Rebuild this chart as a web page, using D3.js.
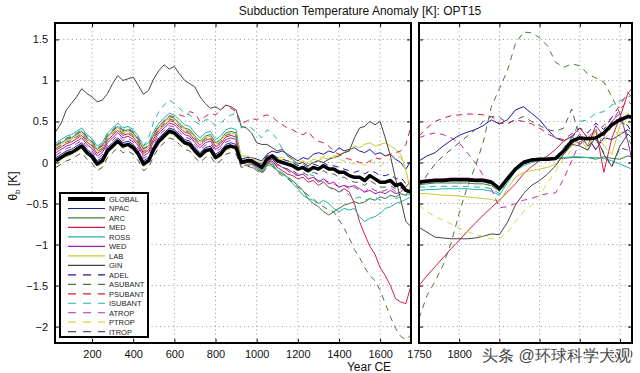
<!DOCTYPE html>
<html>
<head>
<meta charset="utf-8">
<script src="https://cdn.jsdelivr.net/npm/d3@7"></script>
<style>
  body { margin: 0; background: #fff; }
  text { font-family: "Liberation Sans", Arial, sans-serif; }
</style>
</head>
<body>
<svg id="chart" width="640" height="373"></svg>
<script>
// years for the two panels
var yearsL = d3.range(25, 1751, 25);
var yearsR = [1750,1760,1770,1780,1790,1800,1810,1820,1830,1840,1850,1860,1870,1880,1890,1900,1910,1920,1930,1940,1950,1960,1970,1980,1990,2000,2010,2015];

var xTicksL = [200,400,600,800,1000,1200,1400,1600];
var xTicksR = [1750,1800,1850,1900,1950,2000];
// labels under the watermark are not visible in the source
var xLabelsR = [1750,1800,2000];
var yTicks = [-2,-1.5,-1,-0.5,0,0.5,1,1.5];

// left panel (0-1750 CE)
var globalL = [0.02,0.06,0.10,0.12,0.16,0.20,0.12,0.07,-0.02,0.02,0.14,0.20,0.26,0.20,0.22,0.18,0.10,-0.02,0.02,0.16,0.26,0.32,0.38,0.36,0.30,0.24,0.22,0.14,0.08,0.14,0.16,0.06,0.10,0.18,0.20,0.18,
  0.00,0.02,0.02,-0.02,-0.06,0.04,0.08,0.02,0.00,-0.02,-0.04,-0.08,-0.06,-0.10,-0.06,-0.08,-0.04,-0.08,-0.08,-0.12,-0.12,-0.16,-0.18,-0.18,-0.22,-0.16,-0.20,-0.24,-0.24,-0.22,-0.28,-0.26,-0.34,-0.36];
var npacL = [0.06,0.1,0.14,0.16,0.2,0.24,0.16,0.11,0.02,0.06,0.18,0.24,0.3,0.24,0.26,0.22,0.14,0.02,0.06,0.2,0.3,0.36,0.42,0.4,0.34,0.28,0.26,0.18,0.12,0.18,0.2,0.1,0.14,0.22,0.24,0.22,
  0.04,0.06,0.06,0.04,0.02,0.1,0.14,0.12,0.14,0.1,0.06,0.02,0.06,0.04,0.1,0.12,0.1,0.14,0.12,0.18,0.14,0.16,0.18,0.14,0.12,0.16,0.1,0.12,0.08,0.1,0.04,0.0,-0.08,0.02];
var arcL = [0.2,0.24,0.28,0.3,0.34,0.38,0.3,0.25,0.16,0.2,0.32,0.38,0.44,0.38,0.4,0.36,0.28,0.16,0.2,0.34,0.44,0.5,0.56,0.54,0.48,0.42,0.4,0.32,0.26,0.32,0.34,0.24,0.28,0.36,0.38,0.36,
  0.0,-0.02,-0.02,-0.08,-0.12,-0.04,-0.02,-0.1,-0.14,-0.18,-0.22,-0.28,-0.34,-0.44,-0.5,-0.54,-0.6,-0.64,-0.6,-0.56,-0.52,-0.5,-0.48,-0.5,-0.48,-0.44,-0.46,-0.42,-0.44,-0.4,-0.42,-0.38,-0.4,-0.3];
var medL = [0.15,0.19,0.23,0.25,0.29,0.33,0.25,0.2,0.11,0.15,0.27,0.33,0.39,0.33,0.35,0.31,0.23,0.11,0.15,0.29,0.39,0.45,0.51,0.49,0.43,0.37,0.35,0.27,0.21,0.27,0.29,0.19,0.23,0.31,0.33,0.31,
  0.02,0.0,0.0,-0.06,-0.1,0.0,0.02,-0.06,-0.1,-0.14,-0.16,-0.2,-0.18,-0.24,-0.22,-0.28,-0.24,-0.3,-0.32,-0.36,-0.32,-0.36,-0.5,-0.72,-0.88,-1.02,-1.12,-1.28,-1.38,-1.5,-1.66,-1.7,-1.72,-1.5];
var rossL = [0.24,0.28,0.32,0.34,0.38,0.42,0.34,0.29,0.2,0.24,0.36,0.42,0.48,0.42,0.44,0.4,0.32,0.2,0.24,0.38,0.48,0.54,0.6,0.58,0.52,0.46,0.44,0.36,0.3,0.36,0.38,0.28,0.32,0.4,0.42,0.4,
  0.04,0.02,0.0,-0.06,-0.1,-0.02,0.0,-0.1,-0.12,-0.18,-0.26,-0.32,-0.4,-0.44,-0.46,-0.5,-0.46,-0.5,-0.56,-0.6,-0.56,-0.58,-0.56,-0.66,-0.72,-0.68,-0.66,-0.62,-0.56,-0.54,-0.5,-0.48,-0.45,-0.42];
var wedL = [0.12,0.16,0.2,0.22,0.26,0.3,0.22,0.17,0.08,0.12,0.24,0.3,0.36,0.3,0.32,0.28,0.2,0.08,0.12,0.26,0.36,0.42,0.48,0.46,0.4,0.34,0.32,0.24,0.18,0.24,0.26,0.16,0.2,0.28,0.3,0.28,
  0.0,0.02,0.0,-0.04,-0.08,0.02,0.04,-0.02,-0.06,-0.08,-0.12,-0.16,-0.14,-0.2,-0.18,-0.24,-0.2,-0.26,-0.24,-0.3,-0.28,-0.3,-0.28,-0.32,-0.36,-0.34,-0.38,-0.36,-0.38,-0.34,-0.38,-0.36,-0.3,-0.22];
var labL = [0.18,0.22,0.26,0.28,0.32,0.36,0.28,0.23,0.14,0.18,0.3,0.36,0.42,0.36,0.38,0.34,0.26,0.14,0.18,0.32,0.42,0.48,0.54,0.52,0.46,0.4,0.38,0.3,0.24,0.3,0.32,0.22,0.26,0.34,0.36,0.34,
  0.08,0.08,0.06,0.02,0.0,0.08,0.1,0.04,0.04,0.02,0.0,-0.02,0.02,-0.02,0.04,0.02,0.06,0.04,0.08,0.1,0.12,0.14,0.2,0.18,0.22,0.24,0.2,0.22,0.24,0.2,0.16,0.1,-0.1,-0.35];
var ginL = [0.38,0.48,0.64,0.72,0.8,0.9,0.84,0.8,0.74,0.76,0.84,0.96,1.06,1.0,1.02,1.04,0.94,0.83,0.88,1.02,1.12,1.19,1.14,1.17,1.08,1.0,0.96,0.92,0.8,0.72,0.66,0.68,0.64,0.7,0.68,0.64,
  0.44,0.42,0.36,0.24,0.22,0.22,0.18,0.14,0.16,0.08,0.04,-0.02,0.0,-0.04,0.0,0.02,0.0,0.04,0.06,0.08,0.12,0.14,0.3,0.42,0.44,0.5,0.46,0.5,0.3,0.08,-0.2,-0.45,-0.72,-0.78];
var adelL = [0.04,0.08,0.12,0.14,0.18,0.22,0.14,0.09,0.0,0.04,0.16,0.22,0.28,0.22,0.24,0.2,0.12,0.0,0.04,0.18,0.28,0.34,0.4,0.38,0.32,0.26,0.24,0.16,0.1,0.16,0.18,0.08,0.12,0.2,0.22,0.2,
  0.02,0.04,0.04,0.0,-0.02,0.08,0.1,0.06,0.04,0.02,0.0,-0.04,-0.02,-0.06,-0.02,-0.04,0.0,-0.04,-0.04,-0.06,-0.08,-0.1,-0.12,-0.1,-0.14,-0.1,-0.12,-0.16,-0.16,-0.14,-0.2,-0.18,-0.26,-0.28];
var asubantL = [0.17,0.21,0.25,0.27,0.31,0.35,0.27,0.22,0.13,0.17,0.29,0.35,0.41,0.35,0.37,0.33,0.25,0.13,0.17,0.31,0.41,0.47,0.53,0.51,0.45,0.39,0.37,0.29,0.23,0.29,0.31,0.21,0.25,0.33,0.35,0.33,
  -0.02,-0.04,-0.04,-0.1,-0.14,-0.06,-0.04,-0.12,-0.16,-0.2,-0.24,-0.3,-0.34,-0.4,-0.44,-0.5,-0.54,-0.58,-0.6,-0.7,-0.8,-0.92,-1.06,-1.16,-1.28,-1.38,-1.44,-1.56,-1.72,-1.88,-2.02,-2.12,-2.16,-2.1];
var psubantL = [0.21,0.25,0.29,0.31,0.35,0.39,0.31,0.26,0.17,0.21,0.33,0.39,0.45,0.39,0.41,0.37,0.29,0.17,0.21,0.35,0.45,0.51,0.57,0.56,0.58,0.56,0.62,0.6,0.5,0.56,0.6,0.58,0.64,0.7,0.66,0.62,
  0.48,0.5,0.54,0.52,0.56,0.58,0.56,0.5,0.46,0.42,0.4,0.36,0.34,0.38,0.3,0.26,0.24,0.2,0.14,0.1,0.06,0.04,0.02,0.0,-0.02,0.02,0.06,0.04,0.08,0.1,0.12,0.14,0.22,0.44];
var isubantL = [0.22,0.26,0.3,0.32,0.36,0.4,0.32,0.27,0.18,0.22,0.34,0.4,0.46,0.4,0.42,0.38,0.3,0.2,0.3,0.5,0.62,0.7,0.76,0.72,0.66,0.6,0.58,0.5,0.46,0.52,0.52,0.44,0.48,0.54,0.58,0.6,
  0.42,0.44,0.42,0.36,0.3,0.4,0.36,0.28,0.16,0.08,0.02,-0.04,-0.08,-0.14,-0.16,-0.22,-0.24,-0.3,-0.34,-0.36,-0.34,-0.4,-0.44,-0.42,-0.46,-0.44,-0.42,-0.46,-0.44,-0.4,-0.44,-0.42,-0.4,-0.38];
var atropL = [0.09,0.13,0.17,0.19,0.23,0.27,0.19,0.14,0.05,0.09,0.21,0.27,0.33,0.27,0.29,0.25,0.17,0.05,0.09,0.23,0.33,0.39,0.45,0.43,0.37,0.31,0.29,0.21,0.15,0.21,0.23,0.13,0.17,0.25,0.27,0.25,
  -0.02,0.0,-0.02,-0.04,-0.08,0.0,0.04,-0.02,-0.06,-0.1,-0.14,-0.16,-0.14,-0.2,-0.18,-0.22,-0.2,-0.24,-0.26,-0.3,-0.28,-0.32,-0.3,-0.34,-0.36,-0.3,-0.34,-0.36,-0.34,-0.3,-0.36,-0.32,-0.3,-0.3];
var ptropL = [-0.01,0.03,0.07,0.09,0.13,0.17,0.09,0.04,-0.05,-0.01,0.11,0.17,0.23,0.17,0.19,0.15,0.07,-0.05,-0.01,0.13,0.23,0.29,0.35,0.33,0.27,0.21,0.19,0.11,0.05,0.11,0.13,0.03,0.07,0.15,0.17,0.15,
  0.02,0.04,0.04,0.02,0.0,0.08,0.1,0.06,0.06,0.04,0.04,0.0,0.02,0.0,0.04,0.04,0.08,0.06,0.06,0.04,0.02,0.0,-0.02,0.0,-0.04,0.02,-0.02,-0.04,0.0,0.04,0.08,0.06,-0.1,-0.4];
var itropL = [-0.06,-0.02,0.02,0.04,0.08,0.12,0.04,-0.01,-0.1,-0.06,0.06,0.12,0.18,0.12,0.14,0.1,0.02,-0.1,-0.06,0.08,0.18,0.24,0.3,0.28,0.22,0.16,0.14,0.06,0.0,0.06,0.08,-0.02,0.02,0.1,0.12,0.1,
  -0.06,-0.04,-0.06,-0.08,-0.12,-0.02,0.02,-0.04,-0.06,-0.08,-0.1,-0.14,-0.12,-0.16,-0.12,-0.14,-0.1,-0.14,-0.14,-0.18,-0.18,-0.22,-0.24,-0.24,-0.28,-0.22,-0.26,-0.3,-0.3,-0.28,-0.32,-0.3,-0.36,-0.38];

// right panel (1750-2015 CE)
var globalR = [-0.24,-0.23,-0.22,-0.22,-0.21,-0.21,-0.21,-0.22,-0.22,-0.24,-0.32,-0.2,-0.08,0.0,0.03,0.04,0.04,0.05,0.14,0.26,0.3,0.29,0.3,0.36,0.46,0.52,0.56,0.55];
var npacR = [0.02,0.08,0.12,0.2,0.27,0.33,0.37,0.4,0.45,0.52,0.47,0.52,0.64,0.68,0.6,0.52,0.4,0.3,0.26,0.32,0.22,0.3,0.16,0.3,0.28,0.34,0.4,0.35];
var arcR = [-0.27,-0.26,-0.25,-0.25,-0.25,-0.25,-0.25,-0.26,-0.26,-0.28,-0.35,-0.22,-0.1,-0.02,0.02,0.03,0.04,0.05,0.05,0.06,0.06,0.06,0.04,0.07,0.05,0.04,0.08,0.07];
var medR = [-1.5,-1.38,-1.27,-1.16,-1.05,-0.95,-0.84,-0.74,-0.64,-0.55,-0.46,-0.36,-0.26,-0.14,-0.05,0.02,0.08,0.16,0.26,0.32,0.42,0.3,0.4,-0.12,0.3,0.55,0.85,0.9];
var rossR = [-0.34,-0.33,-0.33,-0.32,-0.32,-0.32,-0.32,-0.33,-0.33,-0.35,-0.4,-0.25,-0.1,-0.04,0.0,0.02,0.04,0.06,0.06,0.07,0.07,0.06,0.06,0.05,0.02,-0.02,-0.06,-0.08];
var wedR = [-0.22,-0.21,-0.2,-0.2,-0.19,-0.19,-0.19,-0.2,-0.2,-0.22,-0.3,-0.17,-0.06,0.02,0.04,0.05,0.05,0.06,0.16,0.22,0.35,0.2,0.45,0.32,0.5,0.6,0.25,0.02];
var labR = [-0.38,-0.38,-0.39,-0.4,-0.4,-0.41,-0.42,-0.43,-0.44,-0.45,-0.48,-0.32,-0.18,-0.12,-0.1,-0.08,-0.06,-0.02,0.1,0.2,0.3,0.15,0.4,0.2,0.1,0.45,0.6,0.55];
var ginR = [-0.79,-0.85,-0.91,-0.92,-0.93,-0.93,-0.93,-0.92,-0.9,-0.87,-0.88,-0.73,-0.52,-0.38,-0.28,-0.22,-0.14,-0.04,0.1,0.22,0.2,0.15,0.32,0.1,-0.05,0.2,0.35,0.3];
var adelR = [-0.23,-0.22,-0.21,-0.21,-0.2,-0.2,-0.2,-0.21,-0.21,-0.23,-0.31,-0.18,-0.07,0.01,0.04,0.05,0.05,0.06,0.15,0.3,0.42,0.36,0.48,0.4,0.55,0.5,0.45,0.35];
var asubantR = [-1.9,-1.62,-1.45,-1.25,-0.98,-0.62,-0.3,-0.05,0.25,0.68,0.9,1.12,1.45,1.59,1.58,1.52,1.42,1.22,1.16,1.2,1.18,1.08,1.03,0.98,0.8,0.6,0.3,0.2];
var psubantR = [0.32,0.42,0.5,0.54,0.57,0.58,0.59,0.59,0.58,0.56,0.48,0.47,0.52,0.5,0.47,0.42,0.35,0.3,0.28,0.35,0.42,0.3,0.38,0.45,0.55,0.7,0.85,0.8];
var isubantR = [-0.3,-0.3,-0.29,-0.29,-0.29,-0.29,-0.29,-0.3,-0.3,-0.32,-0.38,-0.22,-0.08,-0.02,0.02,0.04,0.05,0.06,0.18,0.3,0.5,0.52,0.6,0.62,0.7,0.75,0.8,0.82];
var atropR = [0.3,0.34,0.36,0.34,0.3,0.24,0.12,0.0,-0.16,-0.32,-0.55,-0.54,-0.5,-0.46,-0.44,-0.4,-0.38,-0.37,-0.2,0.02,0.25,0.3,0.15,0.35,0.5,0.65,0.75,0.7];
var ptropR = [-0.52,-0.6,-0.66,-0.7,-0.75,-0.8,-0.84,-0.88,-0.9,-0.93,-0.93,-0.85,-0.72,-0.6,-0.52,-0.4,-0.25,-0.1,0.05,0.15,0.3,0.2,0.4,0.25,0.45,0.3,0.6,0.5];
var itropR = [-0.3,-0.15,-0.02,0.08,0.16,0.24,0.32,0.4,0.5,0.56,0.55,0.48,0.52,0.56,0.5,0.45,0.4,0.38,0.42,0.65,0.3,0.2,0.28,0.12,-0.05,0.18,0.15,0.1];

var series = [
  {name: "GLOBAL",  color: "#000000", dash: null,  width: 3.5, L: globalL,  R: globalR},
  {name: "NPAC",    color: "#1c1ca0", dash: null,  width: 1,   L: npacL,    R: npacR},
  {name: "ARC",     color: "#3b7d3b", dash: null,  width: 1,   L: arcL,     R: arcR},
  {name: "MED",     color: "#d31c40", dash: null,  width: 1,   L: medL,     R: medR},
  {name: "ROSS",    color: "#25b3b0", dash: null,  width: 1,   L: rossL,    R: rossR},
  {name: "WED",     color: "#9b22b0", dash: null,  width: 1,   L: wedL,     R: wedR},
  {name: "LAB",     color: "#c9c935", dash: null,  width: 1,   L: labL,     R: labR},
  {name: "GIN",     color: "#444444", dash: null,  width: 1,   L: ginL,     R: ginR},
  {name: "ADEL",    color: "#1c1ca0", dash: "6,5", width: 1,   L: adelL,    R: adelR},
  {name: "ASUBANT", color: "#4a7a3a", dash: "6,5", width: 1,   L: asubantL, R: asubantR},
  {name: "PSUBANT", color: "#d31c40", dash: "6,5", width: 1,   L: psubantL, R: psubantR},
  {name: "ISUBANT", color: "#25b3b0", dash: "6,5", width: 1,   L: isubantL, R: isubantR},
  {name: "ATROP",   color: "#c02a9c", dash: "6,5", width: 1,   L: atropL,   R: atropR},
  {name: "PTROP",   color: "#d6d640", dash: "6,5", width: 1,   L: ptropL,   R: ptropR},
  {name: "ITROP",   color: "#555555", dash: "6,5", width: 1,   L: itropL,   R: itropR}
];

var svg = d3.select("#chart");
var plotTop = 23, plotBottom = 343;

var y = d3.scaleLinear().domain([-2.2, 1.7]).range([plotBottom, plotTop]);
var xL = d3.scaleLinear().domain([20, 1750]).range([55, 411]);
var xR = d3.scaleLinear().domain([1750, 2015]).range([419, 632]);

var fmt = function(d) { return d < 0 ? "\u2212" + Math.abs(d) : String(d); };

var panels = [
  {key: "L", x: xL, years: yearsL, ticks: xTicksL, labels: xTicksL, grid: xTicksL, yLabels: true},
  {key: "R", x: xR, years: yearsR, ticks: xTicksR, labels: xLabelsR, grid: [1800,1850,1900,1950,2000], yLabels: false}
];

panels.forEach(function(p) {
  var x0 = p.x.range()[0], x1 = p.x.range()[1];
  var g = svg.append("g");

  svg.append("clipPath").attr("id", "clip" + p.key)
    .append("rect").attr("x", x0).attr("y", plotTop).attr("width", x1 - x0).attr("height", plotBottom - plotTop);

  // dotted grid
  g.append("g").selectAll("line").data(p.grid).enter().append("line")
    .attr("x1", function(d) { return p.x(d); }).attr("x2", function(d) { return p.x(d); })
    .attr("y1", plotTop).attr("y2", plotBottom)
    .attr("stroke", "#777").attr("stroke-width", 0.8).attr("stroke-dasharray", "1,3.2");
  g.append("g").selectAll("line").data(yTicks).enter().append("line")
    .attr("x1", x0).attr("x2", x1)
    .attr("y1", function(d) { return y(d); }).attr("y2", function(d) { return y(d); })
    .attr("stroke", "#777").attr("stroke-width", 0.8).attr("stroke-dasharray", "1,3.2");

  // series
  var line = d3.line().x(function(d) { return p.x(d[0]); }).y(function(d) { return y(d[1]); });
  var lines = g.append("g").attr("clip-path", "url(#clip" + p.key + ")");
  series.slice(1).concat([series[0]]).forEach(function(s) {
    var vals = s[p.key];
    var pts = p.years.map(function(yr, i) { return [yr, vals[i]]; }).filter(function(d) { return d[1] != null; });
    lines.append("path").datum(pts)
      .attr("d", line)
      .attr("fill", "none")
      .attr("stroke", s.color)
      .attr("stroke-width", s.width)
      .attr("stroke-linejoin", "round")
      .attr("stroke-dasharray", s.dash);
  });

  // axes with inward ticks
  var ax = g.append("g").attr("transform", "translate(0," + plotBottom + ")")
    .call(d3.axisBottom(p.x).tickValues(p.ticks).tickSize(-4).tickPadding(7)
      .tickFormat(function(d) { return p.labels.indexOf(d) >= 0 ? String(d) : ""; }));
  ax.select(".domain").remove();
  ax.selectAll("text").attr("font-size", 11).attr("fill", "#111").attr("font-family", "Liberation Sans, Arial, sans-serif");
  ax.selectAll("line").attr("stroke", "#000");

  var axT = g.append("g").attr("transform", "translate(0," + plotTop + ")")
    .call(d3.axisTop(p.x).tickValues(p.ticks).tickSize(-4).tickFormat(""));
  axT.select(".domain").remove();

  var ay = g.append("g").attr("transform", "translate(" + x0 + ",0)")
    .call(d3.axisLeft(y).tickValues(yTicks).tickSize(-4).tickPadding(7).tickFormat(p.yLabels ? fmt : ""));
  ay.select(".domain").remove();
  ay.selectAll("text").attr("font-size", 11).attr("fill", "#111").attr("font-family", "Liberation Sans, Arial, sans-serif");

  var ayR = g.append("g").attr("transform", "translate(" + x1 + ",0)")
    .call(d3.axisRight(y).tickValues(yTicks).tickSize(-4).tickFormat(""));
  ayR.select(".domain").remove();

  // frame
  g.append("rect").attr("x", x0).attr("y", plotTop).attr("width", x1 - x0).attr("height", plotBottom - plotTop)
    .attr("fill", "none").attr("stroke", "#000").attr("stroke-width", 2);
});

// title and axis labels
svg.append("text").attr("x", 360).attr("y", 15).attr("text-anchor", "middle")
  .attr("font-size", 12).attr("fill", "#111").text("Subduction Temperature Anomaly [K]: OPT15");

svg.append("text").attr("x", 369).attr("y", 371).attr("text-anchor", "middle")
  .attr("font-size", 12).attr("fill", "#111").text("Year CE");

var yl = svg.append("text").attr("transform", "translate(17,186) rotate(-90)")
  .attr("text-anchor", "middle").attr("font-size", 12).attr("fill", "#111");
yl.append("tspan").text("\u03b8");
yl.append("tspan").attr("font-size", 8).attr("dy", 3).text("b");
yl.append("tspan").attr("dy", -3).text(" [K]");

// legend
var leg = svg.append("g");
leg.append("rect").attr("x", 60).attr("y", 193).attr("width", 88).attr("height", 144)
  .attr("fill", "#fff").attr("stroke", "#000").attr("stroke-width", 2);
var row = d3.scaleLinear().domain([0, 14]).range([199, 331.7]);
series.forEach(function(s, i) {
  leg.append("line").attr("x1", 68).attr("x2", 105).attr("y1", row(i)).attr("y2", row(i))
    .attr("stroke", s.color).attr("stroke-width", s.width === 1 ? 1.2 : 4)
    .attr("stroke-dasharray", s.dash ? "8,7" : null);
  leg.append("text").attr("x", 109).attr("y", row(i) + 2.8)
    .attr("font-size", 7.5).attr("fill", "#222").text(s.name);
});

// watermark of the source page
svg.append("text").attr("x", 482).attr("y", 361)
  .attr("font-family", "Noto Sans CJK SC, sans-serif").attr("font-size", 16)
  .attr("fill", "#333").attr("stroke", "#fff").attr("stroke-width", 3).attr("paint-order", "stroke")
  .attr("opacity", 0.9).text("头条 @环球科学大观");
</script>
</body>
</html>
